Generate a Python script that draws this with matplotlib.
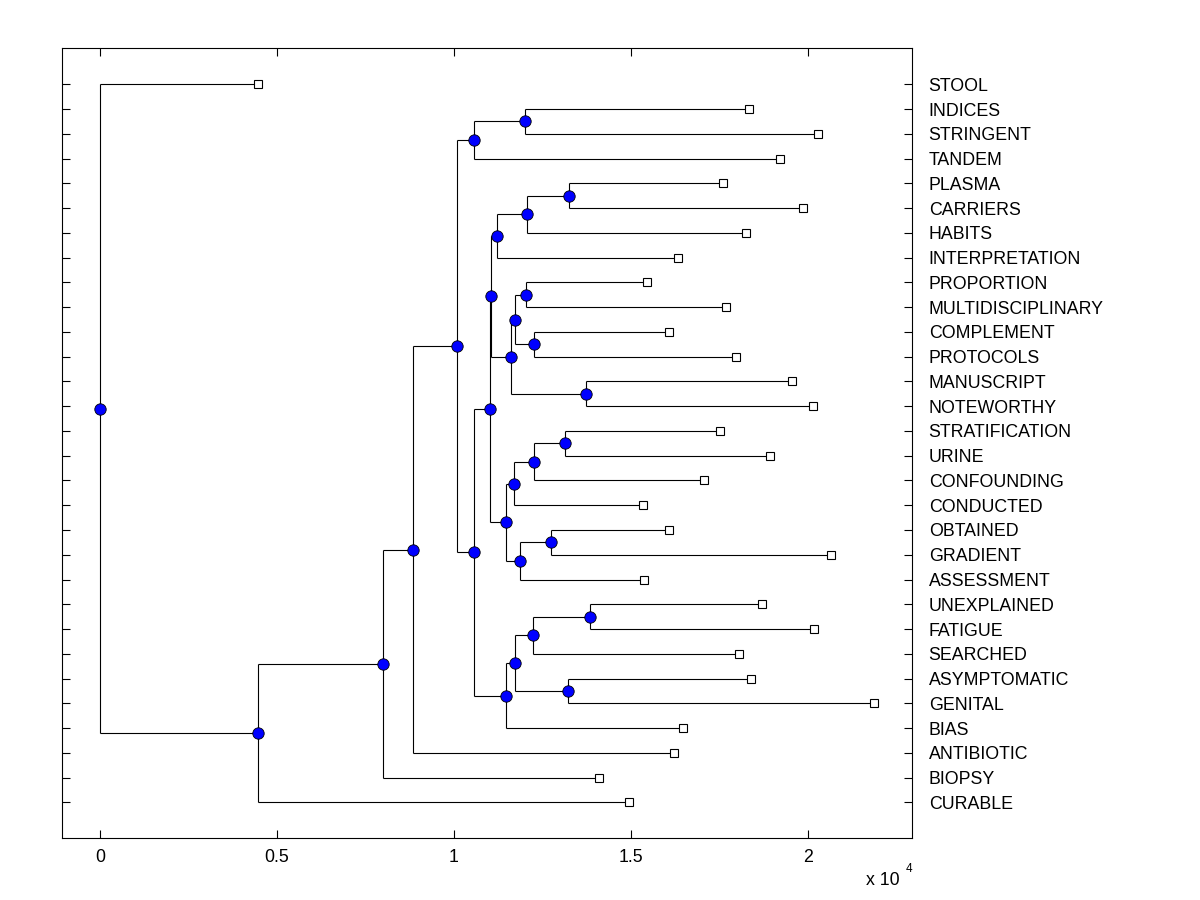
import matplotlib
matplotlib.use('Agg')
import matplotlib.pyplot as plt

plt.rcParams['font.family'] = ['Liberation Sans', 'DejaVu Sans']

# Leaves (top to bottom) and their distance from the root (x 10^4)
leaf_labels = ['STOOL', 'INDICES', 'STRINGENT', 'TANDEM', 'PLASMA', 'CARRIERS',
               'HABITS', 'INTERPRETATION', 'PROPORTION', 'MULTIDISCIPLINARY',
               'COMPLEMENT', 'PROTOCOLS', 'MANUSCRIPT', 'NOTEWORTHY',
               'STRATIFICATION', 'URINE', 'CONFOUNDING', 'CONDUCTED', 'OBTAINED',
               'GRADIENT', 'ASSESSMENT', 'UNEXPLAINED', 'FATIGUE', 'SEARCHED',
               'ASYMPTOMATIC', 'GENITAL', 'BIAS', 'ANTIBIOTIC', 'BIOPSY', 'CURABLE']
leaf_x = [0.447, 1.834, 2.029, 1.922, 1.761, 1.987,
          1.826, 1.634, 1.546, 1.769,
          1.608, 1.797, 1.956, 2.015,
          1.752, 1.894, 1.707, 1.535, 1.608,
          2.066, 1.537, 1.871, 2.018, 1.806,
          1.840, 2.187, 1.648, 1.622, 1.410, 1.495]

# Internal nodes (ids 30..58): pair of child ids and node distance (x 10^4)
node_children = [(1, 2), (30, 3), (4, 5), (32, 6), (33, 7), (8, 9), (10, 11),
                 (35, 36), (12, 13), (37, 38), (34, 39), (14, 15), (41, 16),
                 (42, 17), (18, 19), (44, 20), (43, 45), (40, 46), (21, 22),
                 (48, 23), (24, 25), (49, 50), (51, 26), (47, 52), (31, 53),
                 (54, 27), (55, 28), (56, 29), (0, 57)]
node_x = [1.201, 1.057, 1.326, 1.207, 1.121, 1.203, 1.227,
          1.171, 1.373, 1.162, 1.105, 1.314, 1.227,
          1.170, 1.275, 1.187, 1.148, 1.102, 1.385,
          1.224, 1.323, 1.173, 1.148, 1.057, 1.009,
          0.885, 0.800, 0.447, 0.0]

x_ticks = [0, 0.5, 1, 1.5, 2]
x_tick_labels = ['0', '0.5', '1', '1.5', '2']
scale = 1e4

fig = plt.figure(figsize=(12, 9), dpi=100)
ax = fig.add_axes([62 / 1200, 62 / 900, 850 / 1200, 790 / 900])

n_leaves = len(leaf_labels)
xs = [v * scale for v in leaf_x]
ys = [float(i + 1) for i in range(n_leaves)]
for (a, b), nx in zip(node_children, node_x):
    xs.append(nx * scale)
    ys.append((ys[a] + ys[b]) / 2.0)

lw = 0.8
for k, (a, b) in enumerate(node_children):
    nid = n_leaves + k
    x0 = xs[nid]
    ax.plot([x0, x0], [ys[a], ys[b]], color='black', lw=lw, solid_capstyle='butt', zorder=1)
    for c in (a, b):
        ax.plot([x0, xs[c]], [ys[c], ys[c]], color='black', lw=lw, solid_capstyle='butt', zorder=1)

ax.plot(xs[:n_leaves], ys[:n_leaves], linestyle='none', marker='s', markersize=6.0,
        markerfacecolor='white', markeredgecolor='black', markeredgewidth=0.8, zorder=3)
ax.plot(xs[n_leaves:], ys[n_leaves:], linestyle='none', marker='o', markersize=8.2,
        markerfacecolor='#0000ff', markeredgecolor='black', markeredgewidth=0.6, zorder=4)

ax.set_xlim(-0.1073 * scale, 2.2938 * scale)
ax.set_ylim(31.44, -0.466)

ax.set_xticks([t * scale for t in x_ticks])
ax.set_xticklabels(x_tick_labels, fontsize=12.8)
ax.set_yticks(ys[:n_leaves])
ax.set_yticklabels(leaf_labels, fontsize=12.8)
ax.tick_params(axis='y', which='both', left=True, right=True, labelleft=False,
               labelright=True, direction='in', length=6.1, width=0.8, pad=12)
ax.tick_params(axis='x', which='both', top=True, bottom=True, direction='in',
               length=6.1, width=0.8, pad=8)
for s in ax.spines.values():
    s.set_linewidth(0.8)

fig.text(900 / 1200, 1 - 885 / 900, 'x 10', ha='right', va='baseline', fontsize=12.8)
fig.text(906 / 1200, 1 - 872 / 900, '4', ha='left', va='baseline', fontsize=8.5)

fig.savefig('out.png', dpi=100, facecolor='white')
